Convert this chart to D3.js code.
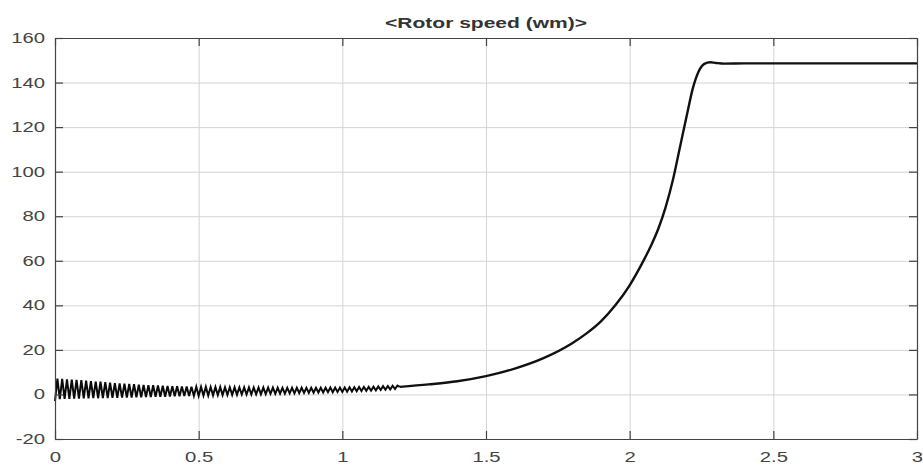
<!DOCTYPE html>
<html>
<head>
<meta charset="utf-8">
<script src="https://cdn.jsdelivr.net/npm/d3@7"></script>
<style>
  body { margin: 0; background: #fff; }
  text { font-family: "Liberation Sans", Arial, sans-serif; }
</style>
</head>
<body>
<div id="chart"></div>
<script>
// tick labels
var xTicks = [0, 0.5, 1, 1.5, 2, 2.5, 3];
var yTicks = [-20, 0, 20, 40, 60, 80, 100, 120, 140, 160];

// start-up ripple, trough / peak pairs sampled every half cycle (60 Hz)
var rippleStep = 1 / 120;
var ripple = [
  -3.0, 7.1, -2.1, 7.0, -2.0, 6.8, -2.0, 6.7, -1.9, 6.5, -1.9, 6.4,
  -1.8, 6.2, -1.8, 6.0, -1.7, 5.8, -1.7, 5.7, -1.6, 5.5, -1.6, 5.3,
  -1.5, 5.1, -1.5, 5.0, -1.4, 4.8, -1.4, 4.7, -1.4, 4.6, -1.3, 4.4,
  -1.3, 4.3, -1.2, 4.2, -1.2, 4.1, -1.1, 4.0, -1.0, 3.9, -1.0, 3.8,
  -0.9, 3.7, -0.85, 3.65, -0.8, 3.6, -0.75, 3.55, -0.7, 3.5, -0.65, 3.45,
  -0.6, 3.4, -0.5, 3.4, -0.5, 3.3, -0.4, 3.3, -0.3, 3.3, -0.3, 3.2,
  -0.2, 3.2, -0.2, 3.2, -0.1, 3.2, 0.0, 3.2, 0.0, 3.2, 0.0, 3.1,
  0.1, 3.1, 0.1, 3.1, 0.2, 3.1, 0.3, 3.1, 0.3, 3.0, 0.4, 3.0,
  0.4, 3.0, 0.5, 3.0, 0.5, 3.0, 0.6, 3.0, 0.7, 3.0, 0.7, 3.0,
  0.8, 3.0, 0.9, 3.0, 0.9, 3.0, 1.0, 3.1, 1.0, 3.1, 1.1, 3.1,
  1.1, 3.1, 1.2, 3.2, 1.3, 3.2, 1.4, 3.3, 1.5, 3.4, 1.6, 3.4,
  1.7, 3.5, 1.8, 3.6, 2.0, 3.7, 2.1, 3.8, 2.2, 3.9, 2.4, 4.0,
  3.4
];

// acceleration and steady state
var speedTime = [1.2, 1.3, 1.4, 1.5, 1.6, 1.7, 1.8, 1.85, 1.9, 1.95, 2.0, 2.05, 2.075,
  2.1, 2.125, 2.15, 2.175, 2.2, 2.22, 2.24, 2.26, 2.28, 2.3, 2.33, 2.4, 2.6, 3.0];
var speedValue = [3.4, 4.5, 5.9, 8.2, 11.6, 16.3, 23.0, 27.4, 32.8, 40.0, 49.0, 60.5, 67.0,
  74.5, 84.0, 96.0, 111.0, 126.0, 137.5, 145.0, 148.4, 149.1, 148.8, 148.5, 148.6, 148.6, 148.6];

var W = 923, H = 466;
var margin = { top: 38, right: 6, bottom: 27, left: 55 },
  width = W - margin.left - margin.right,
  height = H - margin.top - margin.bottom;

var stretch = 1.45; // the original text is drawn wide

var svg = d3.select("#chart").append("svg")
  .attr("width", W)
  .attr("height", H);

var g = svg.append("g")
  .attr("transform", "translate(" + margin.left + "," + margin.top + ")");

var x = d3.scaleLinear().domain([0, 3]).range([0, width]);
var y = d3.scaleLinear().domain([-20, 160]).range([height, 0]);

// grid
g.append("g")
  .attr("transform", "translate(0," + height + ")")
  .call(d3.axisBottom(x).tickValues(xTicks).tickSize(-height).tickFormat(""))
  .call(function (s) {
    s.select(".domain").remove();
    s.selectAll("line").attr("stroke", "#d4d4d4").attr("stroke-width", 1);
  });
g.append("g")
  .call(d3.axisLeft(y).tickValues(yTicks).tickSize(-width).tickFormat(""))
  .call(function (s) {
    s.select(".domain").remove();
    s.selectAll("line").attr("stroke", "#d4d4d4").attr("stroke-width", 1);
  });

// data lines
var rippleData = ripple.map(function (v, i) { return [i * rippleStep, v]; });
var speedData = speedTime.map(function (t, i) { return [t, speedValue[i]]; });

var line = d3.line()
  .x(function (d) { return x(d[0]); })
  .y(function (d) { return y(d[1]); });

g.append("path")
  .datum(rippleData)
  .attr("fill", "none")
  .attr("stroke", "#0a0a0a")
  .attr("stroke-width", 2)
  .attr("d", line);

g.append("path")
  .datum(speedData)
  .attr("fill", "none")
  .attr("stroke", "#111")
  .attr("stroke-width", 2.4)
  .attr("d", line.curve(d3.curveMonotoneX));

// box and inward ticks
function styleAxis(s) {
  s.select(".domain").attr("stroke", "#444").attr("stroke-width", 1.2);
  s.selectAll(".tick line").attr("stroke", "#444").attr("stroke-width", 1.2);
}

var fmt = function (d) { return String(d); };

g.append("g")
  .attr("transform", "translate(0," + height + ")")
  .call(d3.axisBottom(x).tickValues(xTicks).tickSizeInner(-8).tickSizeOuter(0).tickFormat(fmt))
  .call(styleAxis)
  .call(function (s) {
    s.selectAll("text")
      .attr("y", 13)
      .attr("fill", "#444")
      .style("font-size", "14px")
      .attr("transform", "scale(" + stretch + ",1)");
  });

g.append("g")
  .call(d3.axisTop(x).tickValues(xTicks).tickSizeInner(-8).tickSizeOuter(0).tickFormat(""))
  .call(styleAxis);

g.append("g")
  .call(d3.axisLeft(y).tickValues(yTicks).tickSizeInner(-8).tickSizeOuter(0).tickFormat(fmt))
  .call(styleAxis)
  .call(function (s) {
    s.selectAll("text")
      .attr("x", -10 / stretch)
      .attr("fill", "#444")
      .style("font-size", "14px")
      .attr("transform", "scale(" + stretch + ",1)");
  });

g.append("g")
  .attr("transform", "translate(" + width + ",0)")
  .call(d3.axisRight(y).tickValues(yTicks).tickSizeInner(-8).tickSizeOuter(0).tickFormat(""))
  .call(styleAxis);

// title
svg.append("text")
  .attr("transform", "translate(" + (margin.left + width / 2) + ",28) scale(" + stretch + ",1)")
  .attr("text-anchor", "middle")
  .attr("fill", "#333")
  .style("font-size", "14.5px")
  .style("font-weight", "bold")
  .text("<Rotor speed (wm)>");
</script>
</body>
</html>
